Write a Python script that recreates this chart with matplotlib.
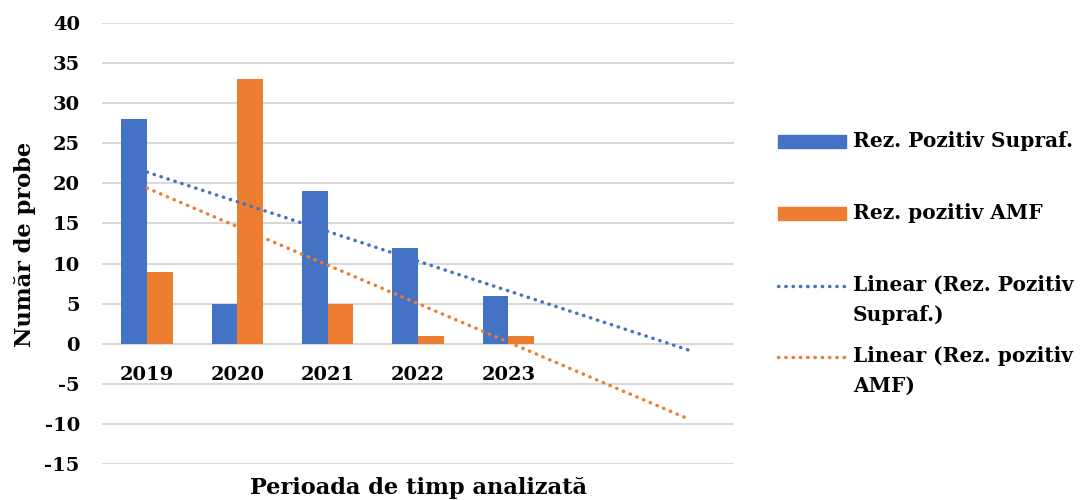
import numpy as np
import matplotlib
matplotlib.use("Agg")
import matplotlib.pyplot as plt
from matplotlib.patches import Rectangle
from matplotlib.lines import Line2D

# Data
years = ["2019", "2020", "2021", "2022", "2023"]
suprafata = [28, 5, 19, 12, 6]
amf = [9, 33, 5, 1, 1]
series_names = ["Rez. Pozitiv Supraf.", "Rez. pozitiv AMF"]
trend_names = ["Linear (Rez. Pozitiv\nSupraf.)", "Linear (Rez. pozitiv\nAMF)"]
y_ticks = [40, 35, 30, 25, 20, 15, 10, 5, 0, -5, -10, -15]
forecast_periods = 2

BLUE = "#4472C4"
ORANGE = "#ED7D31"
GRID = "#D9D9D9"
FONT = dict(family="DejaVu Serif", weight="bold", color="black")

W, H = 1091, 500
fig = plt.figure(figsize=(W / 100, H / 100), dpi=100)
ax = fig.add_axes([102 / W, 1 - 464 / H, (734 - 102) / W, (464 - 23) / H])

x = np.arange(len(years))
bw = 0.285
ax.bar(x - bw / 2, suprafata, bw, color=BLUE, zorder=3)
ax.bar(x + bw / 2, amf, bw, color=ORANGE, zorder=3)

# Linear trend lines, extended forward
xt = np.arange(len(years) + forecast_periods)
dot_style = dict(linestyle=(0, (0.1, 2.0)), lw=2.5, dash_capstyle="round", zorder=4)
for vals, col in [(suprafata, BLUE), (amf, ORANGE)]:
    k, b = np.polyfit(x, vals, 1)
    ax.plot(xt, k * xt + b, color=col, **dot_style)

ax.set_xlim(-0.5, len(years) + forecast_periods - 0.5)
ax.set_ylim(min(y_ticks), max(y_ticks))
ax.set_yticks(y_ticks)
ax.set_yticklabels([str(t) for t in y_ticks], fontsize=14, **FONT)
ax.tick_params(axis="y", length=0, pad=16)
ax.set_xticks([])
ax.grid(axis="y", color=GRID, lw=1.5, zorder=0)
for s in ax.spines.values():
    s.set_visible(False)

# Category labels sit just under the zero line
for i, yr in enumerate(years):
    ax.annotate(yr, xy=(i, 0), xytext=(0, -22.3), textcoords="offset points",
                ha="center", va="center", fontsize=14, **FONT)

fig.text(418 / W, 1 - 488 / H, "Perioada de timp analizată", ha="center",
         va="center", fontsize=16.2, **FONT)
fig.text(25 / W, 1 - 244 / H, "Număr de probe", ha="center", va="center",
         rotation=90, fontsize=16.2, **FONT)

# Legend on the right
x0, x1, tx = 778 / W, 846 / W, 853 / W
fy = lambda py: 1 - py / H
for name, col, py in [(series_names[0], BLUE, 141.5), (series_names[1], ORANGE, 213)]:
    fig.add_artist(Rectangle((x0, fy(py + 6.5)), x1 - x0, 13 / H, color=col,
                             transform=fig.transFigure))
    fig.text(tx, fy(py), name, ha="left", va="center", fontsize=14.5, **FONT)
for name, col, py in [(trend_names[0], BLUE, 286), (trend_names[1], ORANGE, 357)]:
    fig.add_artist(Line2D([x0, x1], [fy(py), fy(py)], color=col,
                          transform=fig.transFigure, **dot_style))
    fig.text(tx, fy(py - 11), name, ha="left", va="top", fontsize=14.5,
             linespacing=1.6, **FONT)

fig.savefig("out.png", dpi=100)
